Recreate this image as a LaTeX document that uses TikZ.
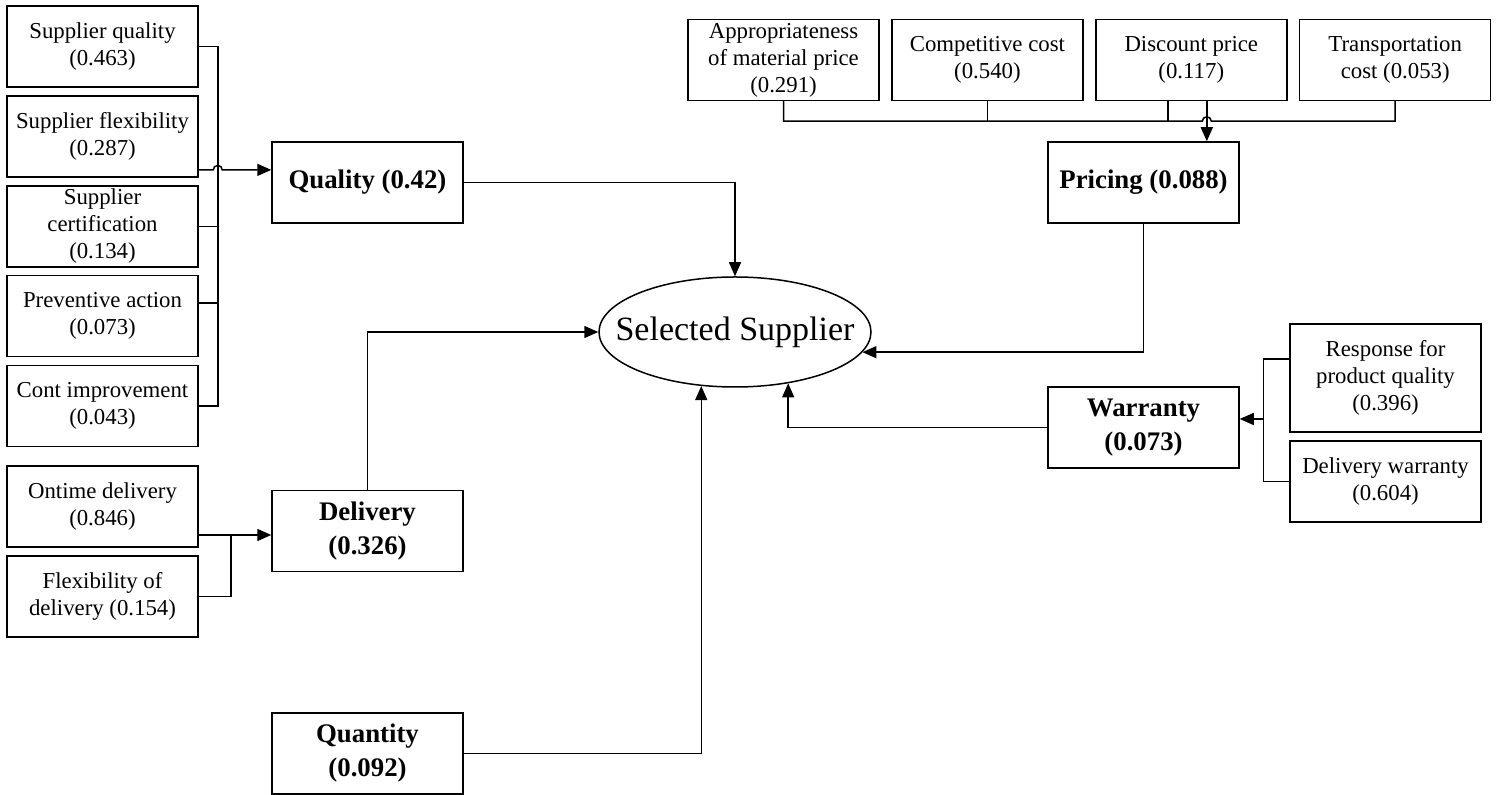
\documentclass[tikz,border=0pt]{standalone}
\usepackage{fontspec}
\setmainfont{Liberation Serif}
\usetikzlibrary{shapes.geometric, arrows.meta, positioning, calc}
\newcommand{\leaffont}{\fontsize{11.4}{13.5}\selectfont}
\newcommand{\critfont}{\fontsize{13.4}{17}\selectfont\bfseries}
\newcommand{\goalfont}{\fontsize{17}{20}\selectfont}
\tikzstyle{leaf} = [rectangle, minimum width=95.5pt, minimum height=40.5pt, inner sep=1pt, align=center, draw=black, font=\leaffont]
\tikzstyle{crit} = [rectangle, minimum width=95.5pt, minimum height=40.5pt, inner sep=1pt, align=center, draw=black, font=\critfont]
\tikzstyle{goal} = [ellipse, minimum width=136pt, minimum height=55pt, inner sep=0pt, draw=black, font=\goalfont]
\tikzstyle{arrow} = [-{Triangle[length=7pt,width=6pt]}]

\begin{document}
\begin{tikzpicture}[x=0.5pt, y=-0.5pt, line width=0.75pt]
\useasboundingbox (0,0) rectangle (1496,795);

% Nodes
\node (ss) [goal] at (735,332) {\makebox[0pt]{Selected Supplier}};
\node (ql) [crit] at (367.5,182.5) {Quality (0.42)};
\node (dl) [crit] at (367.5,531) {Delivery\\(0.326)};
\node (qt) [crit] at (367.5,753.5) {Quantity\\(0.092)};
\node (pr) [crit] at (1143.5,182.5) {Pricing (0.088)};
\node (wr) [crit] at (1143.5,427.5) {Warranty\\(0.073)};

% Quality sub-criteria
\node (sq) [leaf] at (102.5,46.5) {Supplier quality\\(0.463)};
\node (sf) [leaf, below=3.7pt of sq] {Supplier flexibility\\(0.287)};
\node (sc) [leaf, below=3.7pt of sf] {Supplier\\certification\\(0.134)};
\node (pa) [leaf, below=3.7pt of sc] {Preventive action\\(0.073)};
\node (ci) [leaf, below=3.7pt of pa] {Cont improvement\\(0.043)};

% Delivery sub-criteria
\node (od) [leaf] at (102.5,506.5) {Ontime delivery\\(0.846)};
\node (fd) [leaf, below=3.7pt of od] {Flexibility of\\delivery (0.154)};

% Pricing sub-criteria
\node (ap) [leaf] at (783.5,60) {Appropriateness\\of material price\\(0.291)};
\node (cc) [leaf, right=5.7pt of ap] {Competitive cost\\(0.540)};
\node (dp) [leaf, right=5.7pt of cc] {Discount price\\(0.117)};
\node (tc) [leaf, right=5.7pt of dp] {Transportation\\cost (0.053)};

% Warranty sub-criteria
\node (rr) [leaf, minimum height=54pt] at (1385.5,378) {Response for\\product quality\\(0.396)};
\node (dw) [leaf, below=3.7pt of rr] {Delivery warranty\\(0.604)};

% Helper points
\coordinate (sfout) at ($(sf.east)+(0,33.5)$);
\coordinate (odout) at ($(od.east)+(0,28.5)$);
\coordinate (dpout) at ($(dp.south)+(15.5,0)$);
\coordinate (rrout) at ($(rr.west)+(0,-19)$);
\coordinate (wbus) at ($(rrout)+(-26,0)$);
\coordinate (wrin) at ($(wr.east)+(0,-8.5)$);

% Quality bus
\draw (sq.east) -- ++(19,0) |- (ci.east);
\draw (sc.east) -- ++(19,0);
\draw ($(pa.east)+(0,-13)$) -- ++(19,0);
\draw [arrow] (sfout) -- ++(14.5,0) arc[start angle=180, end angle=360, radius=4.5] -- (ql.west |- sfout);

% Delivery bus
\draw [arrow] (odout) -- (dl.west |- odout);
\draw (fd.east) -| ($(odout)+(32,0)$);

% Pricing bus
\draw (ap.south) |- ($(dp.south)+(11,20)$) arc[start angle=180, end angle=360, radius=4.5] -| (tc.south);
\draw (cc.south) -- ++(0,20);
\draw ($(dp.south)+(-23.5,0)$) -- ++(0,20);
\draw [arrow] (dpout) -- (dpout |- pr.north);

% Warranty bus
\draw (rrout) -- (wbus) |- (dw.west);
\draw [arrow] (wbus |- wrin) -- (wrin);

% Arrows into the goal
\draw [arrow] (ql.east) -| (ss.north);
\draw [arrow] (dl.north) |- (ss.west);
\draw [arrow] (qt.east) -| (ss.238.3);
\draw [arrow] (pr.south) |- (ss.-9.4);
\draw [arrow] (wr.west) -| (ss.-44.3);

\end{tikzpicture}
\end{document}
